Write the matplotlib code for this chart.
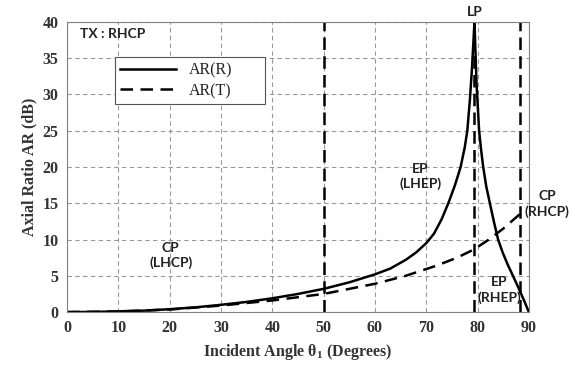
import matplotlib.pyplot as plt

plt.rcParams['font.family'] = 'Liberation Serif'
plt.rcParams['mathtext.fontset'] = 'custom'
plt.rcParams['mathtext.rm'] = 'Liberation Serif:bold'
plt.rcParams['mathtext.bf'] = 'Liberation Serif:bold'
plt.rcParams['mathtext.it'] = 'Liberation Serif:bold'

# Axial ratio of reflected wave
angle_r = [0, 5, 10, 15, 20, 25, 30, 35, 40, 45, 50, 55, 60, 63, 66, 68, 70,
           71.5, 73, 74.3, 75.6, 76.7, 77.5, 78.0, 78.5, 78.9, 79.4, 79.8,
           80.3, 80.7, 81.1, 81.7, 82.4, 83.2, 84.0, 84.9, 85.9, 86.9, 88.0,
           89.0, 90]
ar_r = [0, 0.02, 0.1, 0.2, 0.4, 0.65, 1.0, 1.4, 1.9, 2.5, 3.2, 4.1, 5.2, 6.0,
        7.2, 8.2, 9.5, 10.8, 12.8, 15.0, 17.5, 20.0, 22.7, 25.0, 29.2, 33.5,
        40, 31.5, 25.0, 22.3, 20.0, 17.3, 15.0, 12.4, 10.0, 8.2, 6.5, 5.0,
        3.3, 1.7, 0]

# Axial ratio of transmitted wave
angle_t = [0, 10, 20, 30, 40, 50, 60, 66, 72, 76, 79.2, 82, 85, 88.4]
ar_t = [0, 0.08, 0.35, 0.9, 1.6, 2.5, 3.9, 5.0, 6.4, 7.5, 8.6, 9.9, 11.5, 13.6]

# region boundaries (degrees)
boundaries = [50, 79.4, 88.3]

xticks = list(range(0, 91, 10))
yticks = list(range(0, 41, 5))

fig = plt.figure(figsize=(5.73, 3.65), dpi=100)
ax = fig.add_axes([0.117, 0.145, 0.806, 0.795])

ax.plot(angle_r, ar_r, color='black', lw=1.8, label='AR(R)')
ax.plot(angle_t, ar_t, color='black', lw=1.8, ls=(0, (5, 3)), label='AR(T)')

for b in boundaries:
    ax.axvline(b, color='black', lw=1.8, ls=(0, (5, 2.5)))

ax.set_xlim(0, 90)
ax.set_ylim(0, 40)
ax.set_xticks(xticks)
ax.set_yticks(yticks)
ax.grid(True, color='#999999', ls=(0, (4, 3)), lw=0.8)
for s in ax.spines.values():
    s.set_color('#808080')
ax.tick_params(length=0, pad=6, labelsize=11.5, labelcolor='#333333')
for lbl in ax.get_xticklabels() + ax.get_yticklabels():
    lbl.set_fontweight('bold')

ax.set_xlabel(r'Incident Angle θ$_\mathbf{1}$ (Degrees)',
              fontweight='bold', fontsize=11.5, color='#333333')
ax.set_ylabel('Axial Ratio AR (dB)',
              fontweight='bold', fontsize=11.5, color='#333333')

leg = ax.legend(loc='upper left', bbox_to_anchor=(0.087, 0.77, 0.36, 0.135),
                mode='expand', prop={'size': 11.5},
                fancybox=False, edgecolor='#555555', framealpha=1,
                handlelength=3.5, borderpad=0.3, labelspacing=0.3)
leg.get_frame().set_linewidth(0.8)
for t in leg.get_texts():
    t.set_color('#222222')

anno = dict(family='Lato', fontweight='bold', fontsize=10, color='#222222',
            ha='center', va='center')
ax.text(2.5, 38.3, 'TX : RHCP', ha='left', va='center', family='Lato',
        fontweight='bold', fontsize=10, color='#222222')
ax.text(79.4, 41.3, 'LP', **anno)
ax.text(68.8, 18.7, 'EP\n(LHEP)', linespacing=1.3, **anno)
ax.text(20.2, 7.8, 'CP\n(LHCP)', linespacing=1.3, **anno)
ax.text(84.2, 3.1, 'EP\n(RHEP)', linespacing=1.3, **anno)
ax.text(93.5, 14.9, 'CP\n(RHCP)', linespacing=1.3, clip_on=False, **anno)

fig.savefig('out.png', dpi=100)
